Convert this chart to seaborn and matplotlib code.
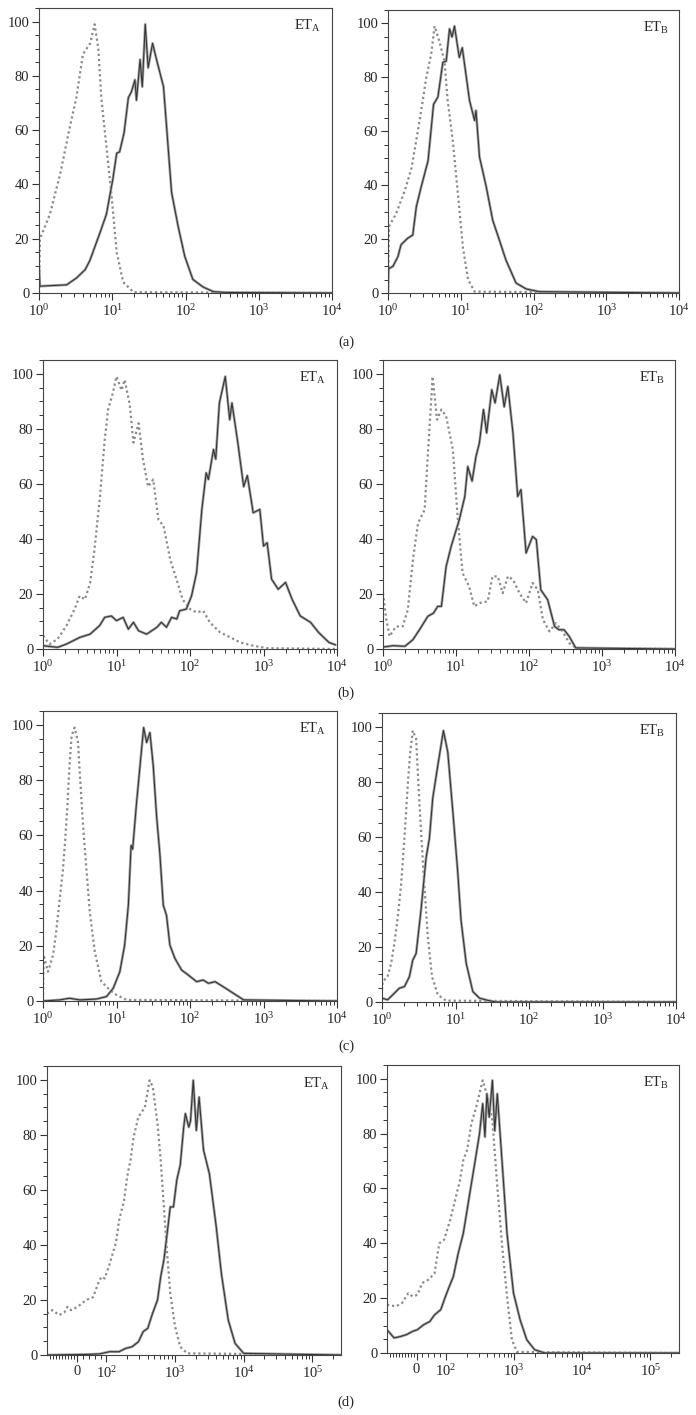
import numpy as np
import matplotlib
matplotlib.use("Agg")
import matplotlib.pyplot as plt
import seaborn as sns
from matplotlib.ticker import (LogLocator, LogFormatterSciNotation, NullFormatter,
                               MultipleLocator, FixedLocator, FixedFormatter)

# ---- (a) ETA ----
a_eta_ctrl_x = [1.0, 1.03, 1.41, 1.95, 2.63, 3.24, 3.98, 5.0, 5.75, 6.46, 7.08, 8.32, 9.77, 11.5, 14.1, 19.5, 10000]
a_eta_ctrl_y = [0, 20, 29, 44, 61, 72, 88, 92, 99, 90, 72, 54, 36, 15, 4, 0.3, 0]
a_eta_x = [1.0, 1.03, 1.41, 2.38, 3.24, 4.27, 4.95, 6.76, 8.32, 10.2, 11.5, 12.6, 14.5, 16.6, 18.2, 20.4,
           21.4, 24.0, 25.7, 28.2, 30.9, 35.5, 39.8, 50.1, 64.6, 79.4, 97.7, 126, 174, 240, 363, 10000]
a_eta_y = [10, 2.5, 2.7, 3, 5.5, 8.6, 12, 22, 29, 42, 51.5, 52, 59, 72, 74, 78.5,
           71, 86, 76, 99, 83, 92, 86.5, 76, 37, 24.5, 13.5, 5, 2.2, 0.5, 0.2, 0]

# ---- (a) ETB ----
a_etb_ctrl_x = [1.0, 1.03, 1.30, 1.70, 2.09, 2.45, 2.86, 3.36, 3.93, 4.37, 5.13, 5.98, 6.61, 7.76, 9.12, 10.7, 12.6, 15.5, 10000]
a_etb_ctrl_y = [0, 24.6, 29.6, 38, 46, 56.7, 67.7, 80, 88.7, 99, 93, 86, 71.4, 56.7, 37, 17, 5, 0.5, 0]
a_etb_x = [1.0, 1.02, 1.17, 1.37, 1.51, 1.86, 2.19, 2.45, 2.86, 3.55, 4.23, 4.85, 5.68, 6.31, 7.01, 7.59, 8.20,
           9.55, 10.5, 13.2, 15.5, 16.2, 18.1, 22.4, 27.5, 33.9, 41.7, 57.5, 79.4, 120, 10000]
a_etb_y = [0.5, 9, 9.9, 13.5, 17.9, 20.3, 21.5, 32, 39.4, 49, 70, 72.7, 85.6, 86, 98, 95, 99,
           87.4, 91, 71.4, 64, 67.7, 50.5, 39.4, 27, 19.7, 12.3, 3.7, 1.5, 0.5, 0]

# ---- (b) ETA ----
b_eta_ctrl_x = [1.0, 1.23, 1.58, 2.09, 2.69, 3.16, 3.72, 4.37, 5.01, 5.89, 6.92, 7.69, 8.91, 10.0, 11.7, 12.9,
                15.1, 17.0, 20.0, 22.9, 26.9, 31.6, 37.2, 43.7, 53.7, 66.1, 79.4, 100, 123, 151, 186, 257,
                355, 479, 724, 1122, 10000]
b_eta_ctrl_y = [4.8, 1.8, 3.6, 8.5, 14.5, 19.3, 18, 24, 36, 54, 76, 87, 93, 99, 94, 97.8,
                89, 75, 82, 69, 59, 61.6, 47, 44.7, 32.6, 25, 18, 14.5, 13.3, 13.9, 9.7, 6,
                4.2, 2.4, 1.2, 0.3, 0]
b_eta_x = [1.0, 1.58, 2.09, 3.16, 4.37, 5.89, 6.92, 8.51, 10.0, 12.3, 14.5, 17.0, 20.0, 25.7, 35.5, 40.7,
           47.9, 56.2, 66.1, 72.4, 89.1, 105, 123, 145, 166, 178, 209, 224, 251, 302, 347, 372, 447,
           537, 603, 724, 891, 1000, 1122, 1288, 1585, 1995, 2455, 3162, 4365, 5623, 7762, 9550]
b_eta_y = [1.2, 0.6, 1.8, 4.2, 5.4, 8.5, 11.5, 12, 10.3, 11.5, 7.2, 9.7, 6.6, 5.4, 7.9, 9.7,
           7.9, 11.5, 10.9, 13.9, 14.5, 19.3, 27.8, 50.7, 64, 61.6, 72.5, 69, 89.4, 99, 83.3, 89.4, 75,
           59, 63, 49.5, 50.7, 37.4, 38.6, 25.4, 21.7, 24.2, 18, 12, 9.7, 6, 2.4, 1.5]

# ---- (b) ETB ----
b_etb_ctrl_x = [1.0, 1.11, 1.23, 1.51, 1.86, 2.19, 2.57, 3.02, 3.72, 4.12, 4.79, 5.50, 6.31, 7.33, 9.06, 10.6,
                12.3, 15.1, 17.8, 20.9, 27.2, 31.6, 37.2, 43.7, 51.3, 60.3, 74.1, 91.2, 112, 132, 155, 191,
                234, 288, 355, 437, 10000]
b_etb_ctrl_y = [20.3, 10.7, 4.6, 8.2, 8.2, 14.3, 32.4, 45.8, 50.6, 71, 99, 83.3, 87, 84.5, 72.4, 47,
                27.6, 22.8, 15.5, 16.7, 17.3, 26.4, 26.4, 20.3, 26.4, 25.2, 20.3, 16.7, 24, 21.5, 10.7, 6.4,
                9.4, 6.4, 2.2, 0.4, 0]
b_etb_x = [1.0, 1.37, 2.0, 2.57, 3.16, 4.12, 4.90, 5.62, 6.31, 7.33, 8.59, 11.1, 13.2, 14.5, 16.6, 18.8,
           20.9, 23.8, 26.3, 30.9, 34.3, 39.8, 45.7, 51.3, 60.3, 70.0, 77.6, 91.2, 112, 126, 145, 180,
           224, 257, 302, 355, 437, 10000]
b_etb_y = [0.7, 1.2, 1.0, 3.4, 7, 11.9, 13, 15.5, 15.5, 30, 37.3, 47, 55.4, 66.3, 61, 70,
           74.8, 87, 78.5, 94.2, 89.4, 99.6, 88, 95.4, 78.5, 55.4, 57.9, 34.9, 40.9, 39.7, 21.5, 17.9,
           8.2, 7, 7, 4.6, 0.4, 0]

# ---- (c) ETA ----
c_eta_ctrl_x = [1.0, 1.02, 1.17, 1.37, 1.51, 1.69, 1.86, 2.0, 2.14, 2.29, 2.45, 2.69, 3.0, 3.16, 3.51, 3.89,
                4.33, 5.07, 6.24, 8.13, 10.0, 13.7, 10000]
c_eta_ctrl_y = [2.2, 16.6, 10.6, 16.6, 25, 37, 47, 58, 70, 85, 96, 99, 93.6, 82.8, 63.5, 47.9,
                32.2, 17.8, 7, 4, 2.2, 0.4, 0]
c_eta_x = [1.0, 1.69, 2.29, 3.16, 5.33, 7.31, 9.02, 11.1, 12.9, 14.5, 15.8, 16.6, 18.6, 20.9, 23.4, 25.7,
           28.5, 31.6, 35.1, 38.9, 43.3, 47.9, 53.3, 62.4, 76.9, 94.8, 123, 151, 178, 219, 282, 389,
           537, 10000]
c_eta_y = [0, 0.4, 1, 0.4, 0.7, 1.6, 4.6, 10.6, 20.2, 34.7, 56.3, 55, 70.8, 85.2, 99, 93.6,
           97.2, 85.2, 67, 53.3, 34.7, 31, 20.2, 15.4, 11.2, 9.4, 7, 7.6, 6.4, 7, 5.2, 2.8,
           0.4, 0]

# ---- (c) ETB ----
c_etb_ctrl_x = [1.0, 1.02, 1.19, 1.33, 1.47, 1.64, 1.82, 2.02, 2.24, 2.40, 2.62, 2.91, 3.24, 3.66, 4.20, 4.79,
                5.75, 7.41, 10000]
c_etb_ctrl_y = [4.4, 7.4, 9.2, 14, 21.2, 30.8, 42.8, 59.6, 78.8, 89.6, 98.6, 95.6, 71.6, 47.6, 23.6, 9.2,
                2.6, 0.5, 0]
c_etb_x = [1.0, 1.19, 1.40, 1.72, 2.02, 2.36, 2.62, 2.91, 3.39, 3.98, 4.42, 4.90, 5.75, 6.85, 7.85, 9.20,
           10.7, 11.9, 14.0, 17.2, 21.2, 27.5, 35.5, 10000]
c_etb_y = [1.4, 0.8, 2.6, 5, 5.6, 9.2, 15.2, 17.6, 33.2, 52.4, 59.6, 74, 86, 98.6, 90.8, 69.2,
           47.6, 29.6, 14, 3.8, 1.4, 0.6, 0, 0]

# ---- (d) ETA ----
d_eta_ctrl_x = [-100, -82, -59, -42, -31, -19, 3, 32, 55, 72, 83, 94, 111, 138, 153, 180,
                200, 224, 248, 292, 363, 425, 473, 555, 617, 687, 765, 851, 1000, 1189, 1496, 262144]
d_eta_ctrl_y = [15, 16.3, 14.5, 15.4, 17.5, 16.3, 17.5, 20, 21, 26, 28.4, 27.8, 33, 41, 49, 56,
                64.7, 70.7, 79, 86.5, 90, 99.8, 97.5, 84, 70.7, 53.8, 36.9, 22.4, 10.3, 3, 0.6, 0]
d_eta_x = [-100, 32, 77, 111, 153, 190, 236, 292, 343, 400, 468, 555, 617, 687, 765, 851,
           948, 1059, 1189, 1334, 1413, 1585, 1679, 1841, 2042, 2239, 2600, 3162, 3981, 4732, 5957, 7500,
           10000, 262144]
d_eta_y = [0, 0.2, 0.4, 1.2, 1.2, 2.4, 3, 4.8, 8.5, 9.7, 15, 20, 28.4, 34.5, 44, 53.8,
           53.8, 63.5, 69, 82.6, 87.7, 82.8, 85, 99.8, 81.6, 93.7, 74.4, 65.9, 46.6, 29.6, 12.7, 4.2,
           0.6, 0]

# ---- (d) ETB ----
d_etb_ctrl_x = [-100, -70, -49, -28, -13, 3, 19, 40, 61, 77, 93, 115, 136, 160, 179, 204,
                235, 277, 345, 407, 479, 565, 667, 785, 926, 1096, 262144]
d_etb_ctrl_y = [17.6, 17, 18.2, 21.8, 20.6, 21.2, 25.5, 26.7, 29, 40, 41.2, 48.5, 55.8, 63, 70.3, 74,
                83.6, 89.7, 99.4, 93.3, 84.8, 60.6, 38.8, 20.6, 4.8, 0.4, 0]
d_etb_x = [-100, -76, -55, -34, -13, 3, 24, 45, 61, 82, 98, 109, 128, 151, 179, 200,
           223, 263, 310, 345, 372, 398, 430, 479, 518, 565, 667, 785, 977, 1225, 1531, 1995,
           2818, 262144]
d_etb_y = [8.5, 5.5, 6, 6.7, 7.9, 8.5, 10.3, 11.5, 13.9, 15.8, 20.6, 23.6, 27.9, 36.4, 43.6, 50.9,
           58.2, 69, 80, 90.9, 78.8, 94.5, 86, 99.4, 81, 94.5, 69, 43.6, 21.8, 12, 4.8, 1.2,
           0, 0]

panel_labels = ["(a)", "(b)", "(c)", "(d)"]
receptor_labels = [r"ET$_{\mathrm{A}}$", r"ET$_{\mathrm{B}}$"]
d_tick_vals = [0, 100, 1000, 10000, 100000]
d_tick_labels = ["0", r"$10^2$", r"$10^3$", r"$10^4$", r"$10^5$"]

sns.set_style("ticks")
plt.rcParams["font.family"] = ["Liberation Serif", "DejaVu Serif"]
plt.rcParams["mathtext.fontset"] = "custom"
plt.rcParams["mathtext.rm"] = "Liberation Serif"
plt.rcParams["mathtext.it"] = "Liberation Serif:italic"
plt.rcParams["mathtext.default"] = "regular"

W, H = 696, 1415
fig = plt.figure(figsize=(W / 100, H / 100), dpi=100)

# axes boxes in pixels: left, right, top, bottom
boxes = [
    [(39, 332, 8, 293), (388, 679, 10, 293)],
    [(43, 337, 360, 649), (383, 675, 360, 649)],
    [(43, 337, 711, 1001), (382, 676, 713, 1002)],
    [(47, 341, 1066, 1355), (387, 679, 1065, 1353)],
]
label_y = [342, 693, 1046, 1402]

data = [
    [(a_eta_ctrl_x, a_eta_ctrl_y, a_eta_x, a_eta_y), (a_etb_ctrl_x, a_etb_ctrl_y, a_etb_x, a_etb_y)],
    [(b_eta_ctrl_x, b_eta_ctrl_y, b_eta_x, b_eta_y), (b_etb_ctrl_x, b_etb_ctrl_y, b_etb_x, b_etb_y)],
    [(c_eta_ctrl_x, c_eta_ctrl_y, c_eta_x, c_eta_y), (c_etb_ctrl_x, c_etb_ctrl_y, c_etb_x, c_etb_y)],
    [(d_eta_ctrl_x, d_eta_ctrl_y, d_eta_x, d_eta_y), (d_etb_ctrl_x, d_etb_ctrl_y, d_etb_x, d_etb_y)],
]

for row in range(4):
    for col in range(2):
        l, r, t, b = boxes[row][col]
        ax = fig.add_axes([l / W, 1 - b / H, (r - l) / W, (b - t) / H])
        cx, cy, sx, sy = data[row][col]

        # isotype control: grey dotted
        sns.lineplot(x=cx, y=cy, ax=ax, color="#8a8a8a", linewidth=1.6,
                     linestyle=(0, (1, 1.3)), estimator=None, sort=False)
        # stained sample: grey halo with dark core
        sns.lineplot(x=sx, y=sy, ax=ax, color="#a0a0a0", linewidth=1.9,
                     estimator=None, sort=False)
        sns.lineplot(x=sx, y=sy, ax=ax, color="#333333", linewidth=0.75,
                     estimator=None, sort=False)

        if row < 3:
            ax.set_xscale("log")
            ax.set_xlim(1, 10000)
            ax.xaxis.set_major_locator(LogLocator(base=10, numticks=10))
            ax.xaxis.set_major_formatter(LogFormatterSciNotation())
            ax.xaxis.set_minor_locator(LogLocator(base=10, subs=np.arange(2, 10), numticks=20))
            ax.xaxis.set_minor_formatter(NullFormatter())
        else:
            ax.set_xscale("symlog", linthresh=100, linscale=0.39)
            ax.set_xlim(-100, 262144)
            ax.xaxis.set_major_locator(FixedLocator(d_tick_vals))
            ax.xaxis.set_major_formatter(FixedFormatter(d_tick_labels))
            minors = ([-90, -80, -70, -60, -50, -40, -30, -20, -10, 20, 40, 60, 80]
                      + [k * 100 for k in range(2, 10)] + [k * 1000 for k in range(2, 10)]
                      + [k * 10000 for k in range(2, 10)] + [200000])
            ax.xaxis.set_minor_locator(FixedLocator(minors))
            ax.xaxis.set_minor_formatter(NullFormatter())

        ax.set_ylim(0, 105)
        ax.yaxis.set_major_locator(MultipleLocator(20))
        ax.yaxis.set_minor_locator(MultipleLocator(5))

        ax.set_xlabel("")
        ax.set_ylabel("")
        for sp in ax.spines.values():
            sp.set_visible(True)
            sp.set_color("#444444")
            sp.set_linewidth(0.8)
        ax.tick_params(which="major", direction="out", length=5, width=0.8, color="#333333",
                       labelsize=10.5, pad=2, top=False, right=False)
        ax.tick_params(which="minor", direction="out", length=3, width=0.7, color="#333333",
                       top=False, right=False)

        ax.text(0.965, 0.965, receptor_labels[col], transform=ax.transAxes,
                ha="right", va="top", fontsize=10.5)

    fig.text(346 / W, 1 - label_y[row] / H, panel_labels[row], ha="center", va="center", fontsize=10.5)

fig.savefig("out.png", dpi=100)
